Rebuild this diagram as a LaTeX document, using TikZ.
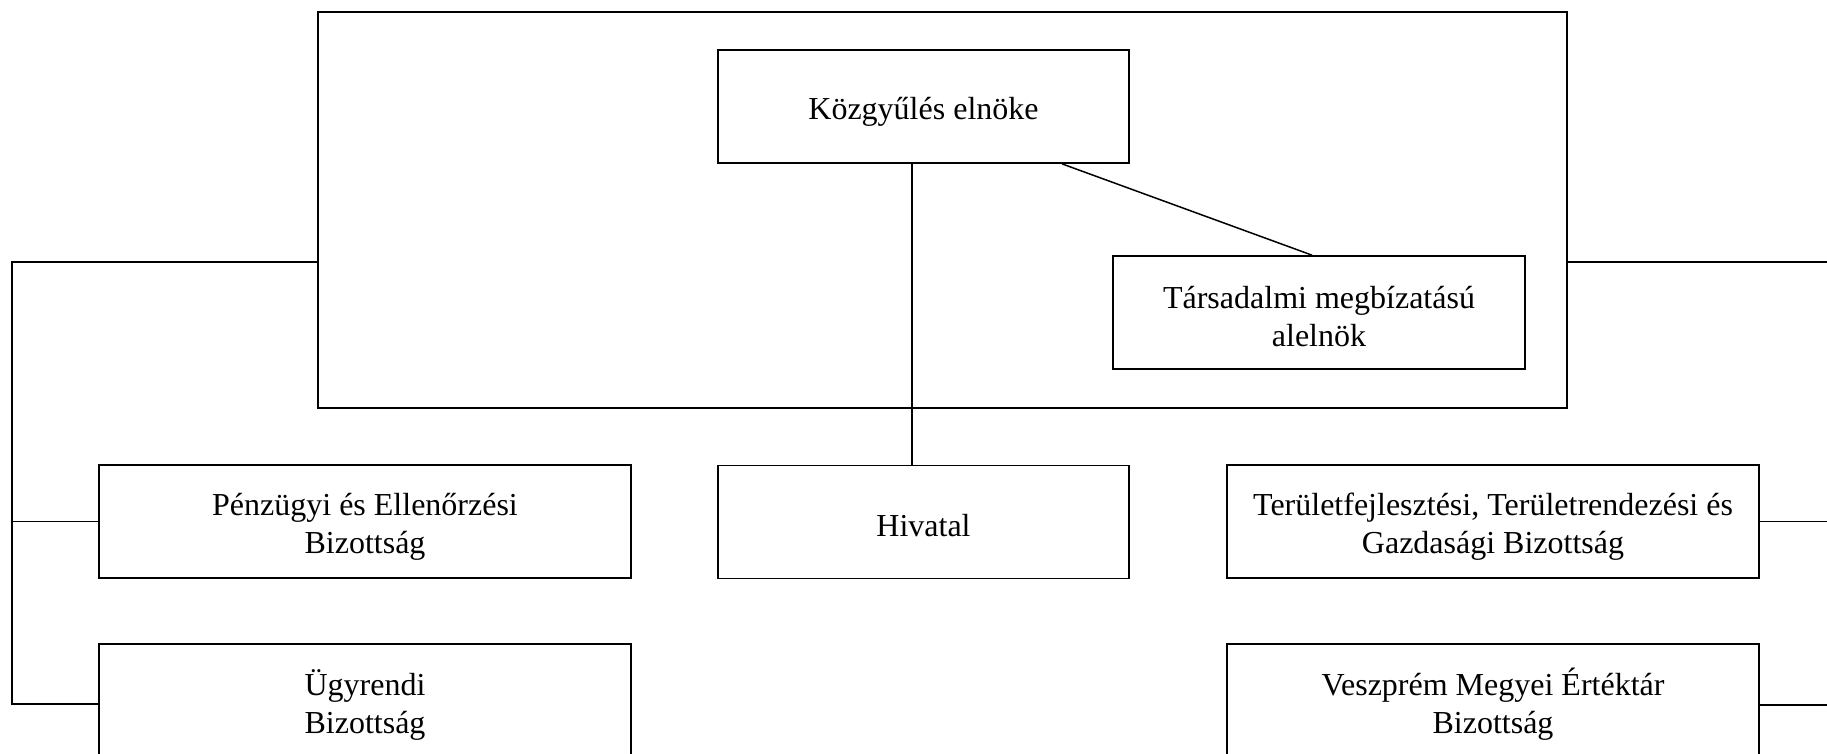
\documentclass[tikz,border=0pt]{standalone}
\usepackage{fontspec}
\setmainfont{Liberation Serif}
\begin{document}
\begin{tikzpicture}[x=1pt,y=-1pt,
  box/.style={draw=black, line width=1.7pt, rectangle, inner sep=0pt},
  txt/.style={inner sep=0pt, align=center, font=\fontsize{32}{38}\selectfont},
  wire/.style={draw=black, line width=1.5pt}]
\useasboundingbox (0,0) rectangle (1827,753);
\fill[white] (0,0) rectangle (1827,753);
\clip (0,0) rectangle (1827,753);
% boxes
\node[box, minimum width=1249pt, minimum height=396pt] (frame) at (942.5,210) {};
\node[box, minimum width=411pt, minimum height=113pt] (kozgy) at (923.5,106.5) {};
\node[box, minimum width=412pt, minimum height=113pt] (tars) at (1319,312.5) {};
\node[box, minimum width=411pt, minimum height=113pt] (hiv) at (923.5,522) {};
\node[box, minimum width=532pt, minimum height=113pt] (penz) at (365,521.5) {};
\node[box, minimum width=532pt, minimum height=113pt] (terul) at (1493,521.5) {};
\node[box, minimum width=532pt, minimum height=113pt] (ugy) at (365,700.5) {};
\node[box, minimum width=532pt, minimum height=113pt] (vesz) at (1493,700.5) {};
% texts
\node[txt] (kozgyT) at ([yshift=-5pt]kozgy.center) {Közgyűlés elnöke};
\node[txt] (tarsT) at ([yshift=-4pt]tars.center) {Társadalmi megbízatású\\alelnök};
\node[txt] (hivT) at ([yshift=-4pt]hiv.center) {Hivatal};
\node[txt] (penzT) at ([yshift=-5pt]penz.center) {Pénzügyi és Ellenőrzési\\Bizottság};
\node[txt] (terulT) at ([yshift=-5pt]terul.center) {Területfejlesztési, Területrendezési és\\Gazdasági Bizottság};
\node[txt] (ugyT) at ([yshift=-4pt]ugy.center) {Ügyrendi\\Bizottság};
\node[txt] (veszT) at ([yshift=-4pt]vesz.center) {Veszprém Megyei Értéktár\\Bizottság};
% coordinates
\coordinate (L1) at (12,262);
\coordinate (L2) at (12,704);
\coordinate (R1) at (1827,262);
\coordinate (R3) at (1827,705);
% connectors
\draw[wire] ([xshift=-11.5pt]kozgy.south) -- ([xshift=-11.5pt]hiv.north);
\draw[wire] ([xshift=138.5pt]kozgy.south) -- ([xshift=-7pt]tars.north);
\draw[wire] (frame.west |- L1) -- (L1) -- (L2) -- (L2 -| ugy.west);
\draw[wire] (penz.west) -- (penz.west -| L1);
\draw[wire] (frame.east |- R1) -- (R1);
\draw[wire] (terul.east) -- (terul.east -| R1);
\draw[wire] (vesz.east |- R3) -- (R3);
\end{tikzpicture}
\end{document}
